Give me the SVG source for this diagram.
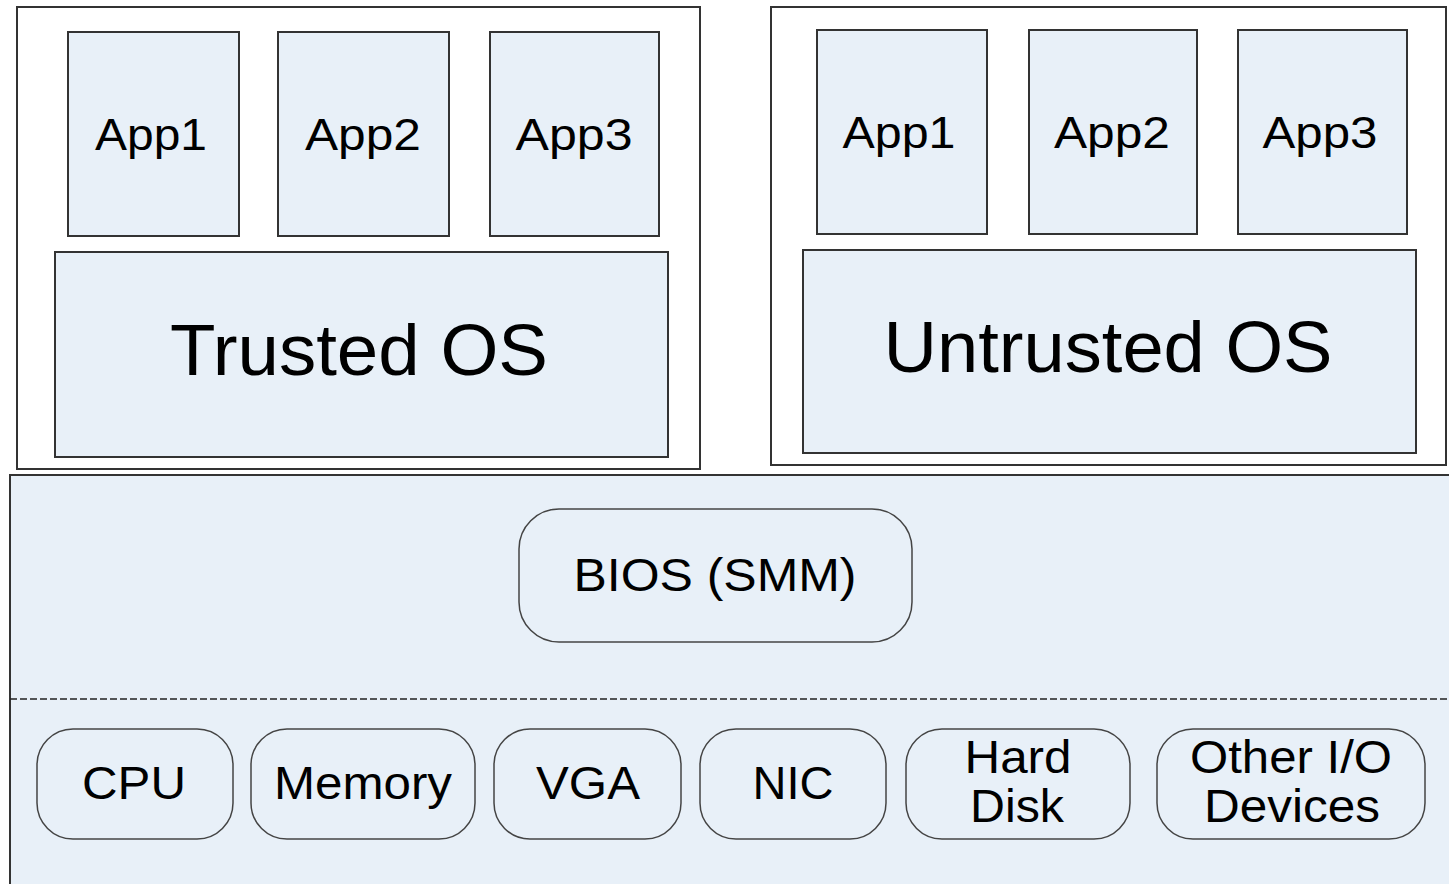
<svg xmlns="http://www.w3.org/2000/svg" width="1449" height="884" viewBox="0 0 1449 884">
<style>
.outer{fill:#fff;stroke:#333;stroke-width:2}
.box{fill:#E8F0F8;stroke:#333;stroke-width:2}
.rbox{fill:#E8F0F8;stroke:#444;stroke-width:1.5}
.t{font-family:"Liberation Sans",Arial,sans-serif;fill:#000;text-anchor:middle}
.app{font-size:45px}
.os{font-size:72px}
.hw{font-size:46px}
</style>
<rect x="0" y="0" width="1449" height="884" fill="#fff"/>
<g id="hardware-layer">
<rect x="10" y="475" width="1450" height="420" class="box"/>
</g>
<g id="connectors">
<line x1="10" y1="699" x2="1449" y2="699" stroke="#222" stroke-width="1.5" stroke-dasharray="7,3"/>
</g>
<g id="trusted-vm">
<rect x="17" y="7" width="683" height="462" class="outer"/>
</g>
<g id="t-app1"><rect x="68" y="32" width="171" height="204" class="box"/><text x="151" y="150" class="t app" textLength="112" lengthAdjust="spacingAndGlyphs">App1</text></g>
<g id="t-app2"><rect x="278" y="32" width="171" height="204" class="box"/><text x="363" y="150" class="t app" textLength="116" lengthAdjust="spacingAndGlyphs">App2</text></g>
<g id="t-app3"><rect x="490" y="32" width="169" height="204" class="box"/><text x="574" y="150" class="t app" textLength="117" lengthAdjust="spacingAndGlyphs">App3</text></g>
<g id="trusted-os"><rect x="55" y="252" width="613" height="205" class="box"/><text x="359" y="375" class="t os" textLength="378" lengthAdjust="spacingAndGlyphs">Trusted OS</text></g>
<g id="untrusted-vm">
<rect x="771" y="7" width="675" height="458" class="outer"/>
</g>
<g id="u-app1"><rect x="817" y="30" width="170" height="204" class="box"/><text x="899" y="148" class="t app" textLength="113" lengthAdjust="spacingAndGlyphs">App1</text></g>
<g id="u-app2"><rect x="1029" y="30" width="168" height="204" class="box"/><text x="1112" y="148" class="t app" textLength="116" lengthAdjust="spacingAndGlyphs">App2</text></g>
<g id="u-app3"><rect x="1238" y="30" width="169" height="204" class="box"/><text x="1320" y="148" class="t app" textLength="115" lengthAdjust="spacingAndGlyphs">App3</text></g>
<g id="untrusted-os"><rect x="803" y="250" width="613" height="203" class="box"/><text x="1108" y="372" class="t os" textLength="449" lengthAdjust="spacingAndGlyphs">Untrusted OS</text></g>
<g id="bios"><rect x="519" y="509" width="393" height="133" rx="40" class="rbox"/><text x="715" y="591" class="t hw" textLength="283" lengthAdjust="spacingAndGlyphs">BIOS (SMM)</text></g>
<g id="cpu"><rect x="37" y="729" width="196" height="110" rx="36" class="rbox"/><text x="134" y="799" class="t hw" textLength="104" lengthAdjust="spacingAndGlyphs">CPU</text></g>
<g id="memory"><rect x="251" y="729" width="224" height="110" rx="36" class="rbox"/><text x="363" y="799" class="t hw" textLength="178" lengthAdjust="spacingAndGlyphs">Memory</text></g>
<g id="vga"><rect x="494" y="729" width="187" height="110" rx="36" class="rbox"/><text x="588" y="799" class="t hw" textLength="104" lengthAdjust="spacingAndGlyphs">VGA</text></g>
<g id="nic"><rect x="700" y="729" width="186" height="110" rx="36" class="rbox"/><text x="793" y="799" class="t hw" textLength="81" lengthAdjust="spacingAndGlyphs">NIC</text></g>
<g id="hard-disk"><rect x="906" y="729" width="224" height="110" rx="36" class="rbox"/><text x="1018" y="773" class="t hw" textLength="107" lengthAdjust="spacingAndGlyphs">Hard</text><text x="1017" y="822" class="t hw" textLength="94" lengthAdjust="spacingAndGlyphs">Disk</text></g>
<g id="other-io"><rect x="1157" y="729" width="268" height="110" rx="36" class="rbox"/><text x="1291" y="773" class="t hw" textLength="202" lengthAdjust="spacingAndGlyphs">Other I/O</text><text x="1292" y="822" class="t hw" textLength="176" lengthAdjust="spacingAndGlyphs">Devices</text></g>
</svg>
